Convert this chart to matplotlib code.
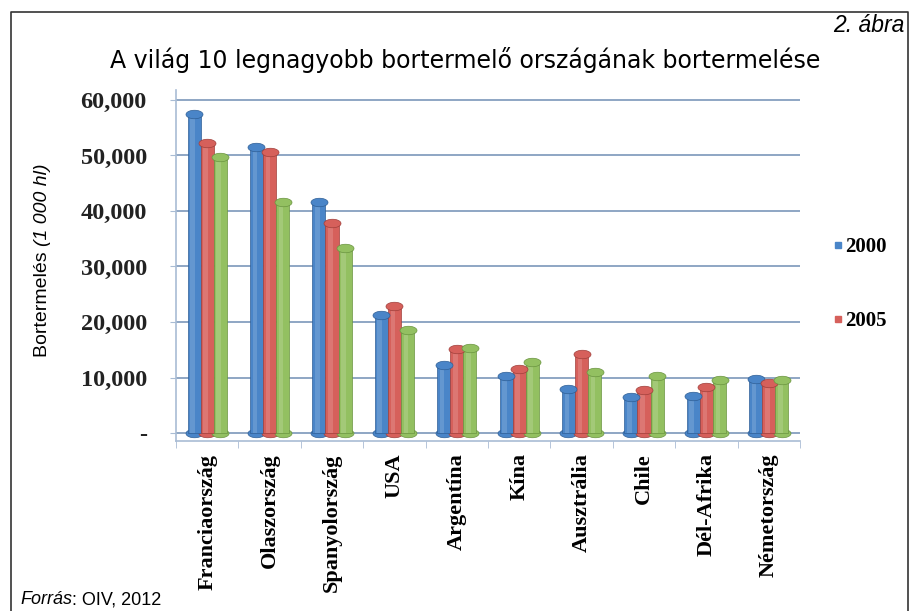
import numpy as np
import matplotlib
matplotlib.use("Agg")
from matplotlib import pyplot as plt
from matplotlib.path import Path
from matplotlib.lines import Line2D
from matplotlib.ticker import FixedLocator, FuncFormatter

# adatok (1 000 hl), leolvasva az ábráról
orszagok = ["Franciaország", "Olaszország", "Spanyolország", "USA", "Argentína",
            "Kína", "Ausztrália", "Chile", "Dél-Afrika", "Németország"]
ev_2000 = [57500, 51500, 41600, 21300, 12300, 10300, 7900, 6500, 6700, 9700]
ev_2005 = [52200, 50600, 37800, 22900, 15100, 11500, 14200, 7700, 8300, 9000]
ev_3 = [49700, 41600, 33300, 18600, 15300, 12800, 11000, 10300, 9500, 9500]
legend_labels = ["2000", "2005"]
y_ticks = [0, 10000, 20000, 30000, 40000, 50000, 60000]

colors = ["#4A85C8", "#D6605B", "#93C061"]
dark = ["#2F5F96", "#A03F3B", "#6A9440"]

fig = plt.figure(figsize=(9.2, 6.11), dpi=100)
ax = fig.add_axes([176 / 920, 1 - 441 / 611, 624 / 920, 351 / 611])

x = np.arange(len(orszagok))
w = 0.21
# ellipszis sapka a henger tetejére
t = np.linspace(0, 2 * np.pi, 60)
cap = Path(np.column_stack([np.cos(t), 0.5 * np.sin(t)]), closed=True)

for i, vals in enumerate([ev_2000, ev_2005, ev_3]):
    xs = x + (i - 1) * w
    ax.bar(xs, vals, width=w, color=colors[i], edgecolor=dark[i], linewidth=0.5, zorder=3)
    # világosabb csík a hengeres hatásért
    ax.bar(xs - w * 0.12, vals, width=w * 0.35, color="white", alpha=0.15, linewidth=0, zorder=4)
    ax.scatter(xs, vals, marker=cap, s=150, color=colors[i], edgecolors=dark[i],
               linewidths=0.5, zorder=5)
    ax.scatter(xs, np.zeros(len(vals)), marker=cap, s=150, color=colors[i],
               edgecolors=dark[i], linewidths=0.5, zorder=2)

ax.set_xlim(-0.5, len(orszagok) - 0.5)
ax.set_ylim(-1440, 61800)
ax.set_yticks(y_ticks)
ax.yaxis.set_major_formatter(FuncFormatter(lambda v, p: "-" if v == 0 else f"{int(v):,}"))
ax.grid(axis="y", color="#8EA6C4", linewidth=1.4, zorder=0)
ax.set_axisbelow(True)

ax.set_xticks(x)
ax.set_xticklabels(orszagok, rotation=90, fontfamily="Liberation Serif",
                   fontweight="bold", fontsize=16, va="top", ha="center")
ax.xaxis.set_minor_locator(FixedLocator(np.arange(-0.5, len(orszagok), 1)))
ax.tick_params(axis="x", which="major", length=0, pad=9)
ax.tick_params(axis="x", which="minor", length=5, color="#A9BCD4", direction="out")
ax.tick_params(axis="y", length=4, color="#A9BCD4", pad=17)
for lab in ax.get_yticklabels():
    lab.set_fontfamily("Liberation Serif")
    lab.set_fontweight("bold")
    lab.set_fontsize(17.5)
    lab.set_color("#222222")

for s in ["top", "right"]:
    ax.spines[s].set_visible(False)
for s in ["left", "bottom"]:
    ax.spines[s].set_color("#A9BCD4")
    ax.spines[s].set_linewidth(1.2)

# jelmagyarázat (csak két elem látszik)
handles = [Line2D([], [], marker="s", linestyle="", markersize=5, color=c) for c in colors[:2]]
fig.legend(handles, legend_labels, loc="center left", bbox_to_anchor=(835 / 920, 1 - 284 / 611),
           frameon=False, handlelength=0.3, handletextpad=0.2, labelspacing=2.6,
           borderpad=0, borderaxespad=0,
           prop={"family": "Liberation Serif", "weight": "bold", "size": 15})

# tengelyfelirat két részből (normál + dőlt)
yl1 = fig.text(43 / 920, 1 - 357 / 611, "Bortermelés ", rotation=90, ha="center", va="bottom",
               fontsize=14, fontfamily="Liberation Sans")
fig.canvas.draw()
bb = yl1.get_window_extent()
fig.text(43 / 920, bb.y1 / fig.bbox.height, "(1 000 hl)", rotation=90, ha="center",
         va="bottom", fontsize=14, fontfamily="Liberation Sans", fontstyle="italic")

fig.text(465 / 920, 1 - 60 / 611, "A világ 10 legnagyobb bortermelő országának bortermelése",
         ha="center", va="center", fontsize=17, fontfamily="DejaVu Sans")
fig.text(905 / 920, 1 - 25 / 611, "2. ábra", ha="right", va="center", fontsize=16.5,
         fontstyle="italic", fontfamily="Liberation Sans")
ft = fig.text(20 / 920, 1 - 600 / 611, "Forrás", ha="left", va="center",
              fontsize=13, fontfamily="Liberation Sans", fontstyle="italic")
fig.canvas.draw()
fb = ft.get_window_extent()
fig.text(fb.x1 / fig.bbox.width, 1 - 600 / 611, ": OIV, 2012", ha="left", va="center",
         fontsize=13, fontfamily="Liberation Sans")

# keret
fig.add_artist(Line2D([11 / 920, 11 / 920, 908 / 920, 908 / 920],
                      [0, 1 - 12 / 611, 1 - 12 / 611, 0], color="#333333", linewidth=1.2))

fig.savefig("out.png", dpi=100)
